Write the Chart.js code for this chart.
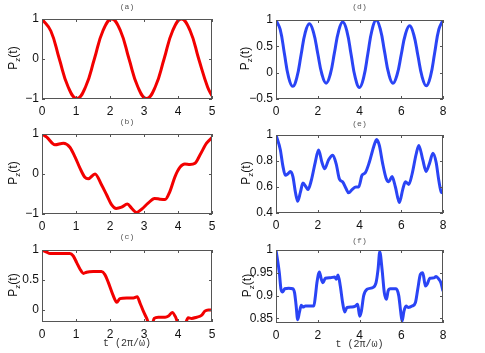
<!DOCTYPE html>
<html>
<head>
<meta charset="utf-8">
<script src="https://cdn.jsdelivr.net/npm/chart.js@4.4.1/dist/chart.umd.min.js"></script>
<style>
body{margin:0;background:#fff;width:485px;height:353px;position:relative;overflow:hidden}
canvas{position:absolute}
</style>
</head>
<body>
<canvas id="cA"></canvas>
<canvas id="cB"></canvas>
<canvas id="cC"></canvas>
<canvas id="cD"></canvas>
<canvas id="cE"></canvas>
<canvas id="cF"></canvas>
<script>
// ---- data ----
const tA = [0,0.26,0.51,0.77,1.025,1.28,1.54,1.79,2.05,2.31,2.56,2.82,3.075,3.33,3.59,3.84,4.1,4.36,4.61,4.87,5];
const pA = [1,0.7,0,-0.7,-0.99,-0.7,0,0.7,1,0.7,0,-0.7,-0.99,-0.7,0,0.7,1,0.7,0,-0.7,-0.92];

const tB = [0,0.14,0.38,0.63,0.82,0.97,1.12,1.26,1.36,1.56,1.75,1.9,2.05,2.18,2.34,2.51,2.64,2.78,2.93,3.12,3.31,3.47,3.62,3.76,3.91,4.06,4.2,4.35,4.5,4.65,4.84,5];
const pB = [1,0.92,0.73,0.77,0.67,0.43,0.14,-0.08,-0.12,0,-0.27,-0.52,-0.77,-0.86,-0.83,-0.75,-0.86,-0.96,-0.88,-0.73,-0.61,-0.63,-0.64,-0.44,-0.07,0.17,0.25,0.24,0.27,0.48,0.77,0.91];

const tC = [0,0.12,0.24,0.53,0.82,0.92,1.02,1.12,1.22,1.31,1.51,1.75,1.85,1.95,2.08,2.2,2.29,2.49,2.69,2.8,2.88,2.98,3.08,3.15,3.22,3.3,3.42,3.62,3.72,3.83,3.93,4.01,4.11,4.2,4.3,4.4,4.55,4.69,4.79,4.89,5];
const pC = [1,0.97,0.94,0.94,0.94,0.9,0.79,0.68,0.61,0.63,0.64,0.64,0.59,0.46,0.26,0.13,0.19,0.2,0.2,0.22,0.12,-0.02,-0.14,-0.24,-0.27,-0.14,-0.12,-0.12,-0.1,-0.04,-0.12,-0.24,-0.3,-0.25,-0.13,-0.14,-0.12,-0.09,-0.02,0,0];

const tD = [0,0.2,0.4,0.6,0.8,1,1.2,1.4,1.6,1.8,2,2.2,2.4,2.6,2.8,3,3.2,3.4,3.6,3.8,4,4.2,4.4,4.6,4.8,5,5.2,5.4,5.6,5.8,6,6.2,6.4,6.6,6.8,7,7.2,7.4,7.6,7.8,8];
const pD = [1,0.82,0.37,-0.08,-0.26,-0.09,0.335,0.76,0.93,0.76,0.365,-0.03,-0.2,-0.03,0.38,0.79,0.96,0.78,0.34,-0.1,-0.28,-0.09,0.36,0.81,1,0.82,0.4,-0.02,-0.2,-0.04,0.345,0.73,0.89,0.72,0.32,-0.08,-0.25,-0.07,0.375,0.82,1];

const tE = [0,0.21,0.32,0.45,0.56,0.69,0.81,0.93,1.04,1.17,1.29,1.44,1.53,1.69,1.88,2.04,2.2,2.33,2.52,2.72,2.88,3.04,3.19,3.35,3.48,3.64,3.83,3.96,4.12,4.28,4.47,4.68,4.82,4.95,5.11,5.27,5.4,5.56,5.72,5.91,6.07,6.2,6.36,6.52,6.71,6.84,7.03,7.19,7.35,7.52,7.67,7.8,7.92,8];
const pE = [1,0.885,0.77,0.69,0.7,0.72,0.68,0.56,0.49,0.56,0.63,0.6,0.58,0.65,0.79,0.885,0.79,0.74,0.81,0.845,0.78,0.66,0.64,0.59,0.555,0.58,0.6,0.6,0.69,0.71,0.79,0.91,0.965,0.92,0.78,0.67,0.64,0.68,0.6,0.48,0.58,0.64,0.62,0.7,0.85,0.92,0.81,0.72,0.78,0.86,0.79,0.65,0.56,0.555];

const tF = [0,0.16,0.24,0.32,0.42,0.61,0.8,0.89,0.96,1.04,1.12,1.21,1.29,1.41,1.81,1.89,1.96,2.08,2.17,2.25,2.36,2.6,2.81,2.89,2.97,3.08,3.19,3.29,3.4,3.64,3.8,3.91,4.01,4.09,4.2,4.36,4.6,4.79,4.89,4.97,5.08,5.19,5.29,5.37,5.48,5.75,5.88,5.97,6.04,6.13,6.23,6.33,6.52,6.68,6.79,6.92,7.03,7.16,7.24,7.37,7.57,7.67,7.8,7.9,8];
const pF = [1,0.95,0.914,0.908,0.915,0.916,0.915,0.906,0.88,0.847,0.863,0.879,0.875,0.877,0.877,0.9,0.928,0.952,0.936,0.928,0.938,0.939,0.941,0.936,0.945,0.921,0.885,0.864,0.874,0.875,0.877,0.881,0.855,0.866,0.9,0.914,0.917,0.928,0.958,0.996,0.958,0.906,0.892,0.91,0.915,0.915,0.9,0.866,0.844,0.866,0.877,0.874,0.877,0.885,0.914,0.947,0.95,0.921,0.925,0.938,0.939,0.942,0.936,0.928,0.91];

const xTicks5 = [0,1,2,3,4,5];
const xTicks8 = [0,2,4,6,8];
const yTicksAB = [-1,0,1];
const yTicksC = [0,0.5,1];
const yTicksD = [-0.5,0,0.5,1];
const yTicksE = [0.4,0.6,0.8,1];
const yTicksF = [0.85,0.9,0.95,1];
const xTitle = 't (2\u03C0/\u03C9)';

const RED = '#f20000', BLUE = '#2a44f5';
const PAD_L = 40, PAD_T = 20, PAD_R = 16, PAD_B = 30;

// box = plot rectangle in page pixels [x1,y1,x2,y2]
const panels = [
  {id:'cA', label:'(a)', t:tA, p:pA, color:RED,  box:[42,19,212,99],   xMax:5, yMin:-1,   yMax:1, xt:xTicks5, yt:yTicksAB, tDy:12, yDx:25, smooth:true},
  {id:'cB', label:'(b)', t:tB, p:pB, color:RED,  box:[42,134,212,214], xMax:5, yMin:-1,   yMax:1, xt:xTicks5, yt:yTicksAB, tDy:12, yDx:25},
  {id:'cC', label:'(c)', t:tC, p:pC, color:RED,  box:[42,250,212,322], xMax:5, yMin:-0.2, yMax:1, xt:xTicks5, yt:yTicksC,  tDy:13, yDx:25, xTitle:true},
  {id:'cD', label:'(d)', t:tD, p:pD, color:BLUE, box:[276,20,443,99],  xMax:8, yMin:-0.5, yMax:1, xt:xTicks8, yt:yTicksD,  tDy:13, yDx:27, smooth:true},
  {id:'cE', label:'(e)', t:tE, p:pE, color:BLUE, box:[276,135,443,213],xMax:8, yMin:0.4,  yMax:1, xt:xTicks8, yt:yTicksE,  tDy:11, yDx:26},
  {id:'cF', label:'(f)', t:tF, p:pF, color:BLUE, box:[276,250,443,323],xMax:8, yMin:0.84, yMax:1, xt:xTicks8, yt:yTicksF,  tDy:9,  yDx:25, xTitle:true}
];

const fmt = v => v < 0 ? '\u2212' + Math.abs(v) : String(v);

const frame = {
  id:'frame',
  afterDraw(chart, args, o){
    const {ctx, chartArea:a} = chart;
    const xs = chart.scales.x, ys = chart.scales.y;
    ctx.save();
    ctx.strokeStyle = '#555';
    ctx.lineWidth = 1;
    ctx.strokeRect(a.left + 0.5, a.top + 0.5, a.right - a.left - 1, a.bottom - a.top - 1);
    ctx.beginPath();
    o.xt.forEach(v=>{
      const px = Math.round(xs.getPixelForValue(v)) + 0.5;
      ctx.moveTo(px, a.bottom); ctx.lineTo(px, a.bottom - 3);
      ctx.moveTo(px, a.top); ctx.lineTo(px, a.top + 3);
    });
    o.yt.forEach(v=>{
      const py = Math.round(ys.getPixelForValue(v)) + 0.5;
      ctx.moveTo(a.left, py); ctx.lineTo(a.left + 3, py);
      ctx.moveTo(a.right, py); ctx.lineTo(a.right - 3, py);
    });
    ctx.stroke();

    const cx = (a.left + a.right) / 2;
    // panel label
    ctx.fillStyle = '#555';
    ctx.font = '8px "Liberation Mono", monospace';
    ctx.textAlign = 'center';
    ctx.textBaseline = 'middle';
    ctx.fillText(o.label, cx, a.top - o.tDy);

    // x title
    if(o.xTitle){
      ctx.fillStyle = '#333';
      ctx.font = '10px "Liberation Mono", monospace';
      ctx.fillText(xTitle, cx, a.bottom + 21);
    }

    // y title P_z(t)
    ctx.translate(a.left - o.yDx, (a.top + a.bottom) / 2 - 1);
    ctx.rotate(-Math.PI / 2);
    ctx.fillStyle = '#111';
    ctx.textAlign = 'left';
    ctx.textBaseline = 'alphabetic';
    const big = '12px "Liberation Sans", Arial', small = '8px "Liberation Sans", Arial';
    ctx.font = big; const wP = ctx.measureText('P').width, wT = ctx.measureText('(t)').width;
    ctx.font = small; const wZ = ctx.measureText('z').width;
    let x0 = -(wP + wZ + wT) / 2;
    ctx.font = big; ctx.fillText('P', x0, 0); x0 += wP;
    ctx.font = small; ctx.fillText('z', x0, 3); x0 += wZ;
    ctx.font = big; ctx.fillText('(t)', x0, 0);
    ctx.restore();
  }
};

const tickFont = {family:'"Liberation Sans", Arial, sans-serif', size:12};

panels.forEach(P=>{
  const [x1,y1,x2,y2] = P.box;
  const w = (x2 - x1) + PAD_L + PAD_R, h = (y2 - y1) + PAD_T + PAD_B;
  const el = document.getElementById(P.id);
  el.width = w; el.height = h;
  el.style.left = (x1 - PAD_L) + 'px';
  el.style.top = (y1 - PAD_T) + 'px';
  el.style.width = w + 'px';
  el.style.height = h + 'px';

  new Chart(el, {
    type:'line',
    data:{datasets:[{
      data:P.t.map((t,i)=>({x:t, y:P.p[i]})),
      borderColor:P.color,
      borderWidth:3,
      pointRadius:0,
      fill:false,
      cubicInterpolationMode:P.smooth ? 'default' : 'monotone',
      tension:P.smooth ? 0.45 : 0
    }]},
    options:{
      responsive:false,
      animation:false,
      devicePixelRatio:1,
      events:[],
      layout:{padding:{top:PAD_T, right:PAD_R, left:0, bottom:0}},
      plugins:{
        legend:{display:false},
        tooltip:{enabled:false},
        frame:{label:P.label, xt:P.xt, yt:P.yt, tDy:P.tDy, yDx:P.yDx, xTitle:!!P.xTitle}
      },
      scales:{
        x:{
          type:'linear', min:0, max:P.xMax,
          afterBuildTicks:s=>{ s.ticks = P.xt.map(v=>({value:v})); },
          afterFit:s=>{ s.height = PAD_B; },
          grid:{display:false, drawTicks:false},
          border:{display:false},
          ticks:{padding:5, color:'#111', font:tickFont, maxRotation:0, autoSkip:false, callback:v=>fmt(v)}
        },
        y:{
          type:'linear', min:P.yMin, max:P.yMax,
          afterBuildTicks:s=>{ s.ticks = P.yt.map(v=>({value:v})); },
          afterFit:s=>{ s.width = PAD_L; },
          grid:{display:false, drawTicks:false},
          border:{display:false},
          ticks:{padding:3, color:'#111', font:tickFont, autoSkip:false, callback:v=>fmt(v)}
        }
      }
    },
    plugins:[frame]
  });
});
</script>
</body>
</html>
